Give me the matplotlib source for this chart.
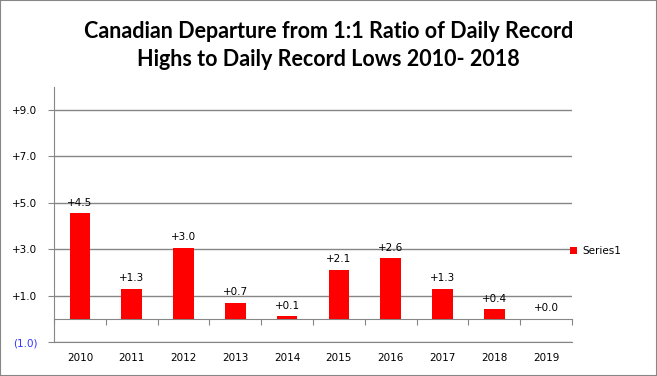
import matplotlib.pyplot as plt
from matplotlib.patches import Rectangle
import numpy as np

# data
years = ['2010', '2011', '2012', '2013', '2014', '2015', '2016', '2017', '2018', '2019']
departure = [4.55, 1.3, 3.05, 0.7, 0.1, 2.1, 2.6, 1.3, 0.4, 0.0]
bar_labels = ['+4.5', '+1.3', '+3.0', '+0.7', '+0.1', '+2.1', '+2.6', '+1.3', '+0.4', '+0.0']
yticks = [-1, 1, 3, 5, 7, 9]

grey = '#868686'

def fmt(v):
    # excel style number format: +0.0;(0.0)
    if v < 0:
        return '(%.1f)' % abs(v)
    return '+%.1f' % v

fig = plt.figure(figsize=(6.57, 3.76), dpi=100)
ax = fig.add_axes([54 / 657, 34 / 376, 518 / 657, 255.5 / 376])

x = np.arange(len(years))
bars = ax.bar(x, departure, width=0.4, color='#ff0000', label='Series1', zorder=3)

for xi, v, lab in zip(x, departure, bar_labels):
    ax.annotate(lab, (xi, v), xytext=(0, 4), textcoords='offset points',
                ha='center', va='bottom', fontsize=7.5, color='black')

ax.set_xlim(-0.5, len(years) - 0.5)
ax.set_ylim(-1, 10)
ax.set_yticks(yticks)
ax.set_yticklabels([fmt(v) for v in yticks], fontsize=7.5)
for t, v in zip(ax.get_yticklabels(), yticks):
    if v < 0:
        t.set_color('#3333ff')
ax.tick_params(axis='y', length=4, color=grey, pad=8)
ax.yaxis.grid(True, color=grey, linewidth=1, zorder=0)

ax.set_xticks(x)
ax.set_xticklabels(years, fontsize=7.5)
ax.tick_params(axis='x', length=0, pad=8)

for s in ['top', 'right']:
    ax.spines[s].set_visible(False)
ax.spines['left'].set_color(grey)
ax.spines['bottom'].set_color(grey)

# the category axis crosses at zero
sec = ax.secondary_xaxis(1 / 11)
sec.set_xticks(np.arange(len(years) + 1) - 0.5)
sec.set_xticklabels([])
sec.tick_params(length=4, color=grey, direction='out')
sec.spines['bottom'].set_color(grey)

fig.text(0.5, 0.88, 'Canadian Departure from 1:1 Ratio of Daily Record\nHighs to Daily Record Lows 2010- 2018',
         ha='center', va='center', fontsize=15.5, fontweight='bold', family='Lato', linespacing=1.4)

leg = fig.legend(handles=[bars], labels=['Series1'], loc='center left',
                 bbox_to_anchor=(0.853, 0.333), frameon=False, fontsize=7.5,
                 handlelength=0.7, handleheight=0.7, handletextpad=0.5)

fig.patches.append(Rectangle((0, 0), 1, 1, transform=fig.transFigure, fill=False,
                             edgecolor=grey, linewidth=1.5))

fig.savefig('out.png', dpi=100)
